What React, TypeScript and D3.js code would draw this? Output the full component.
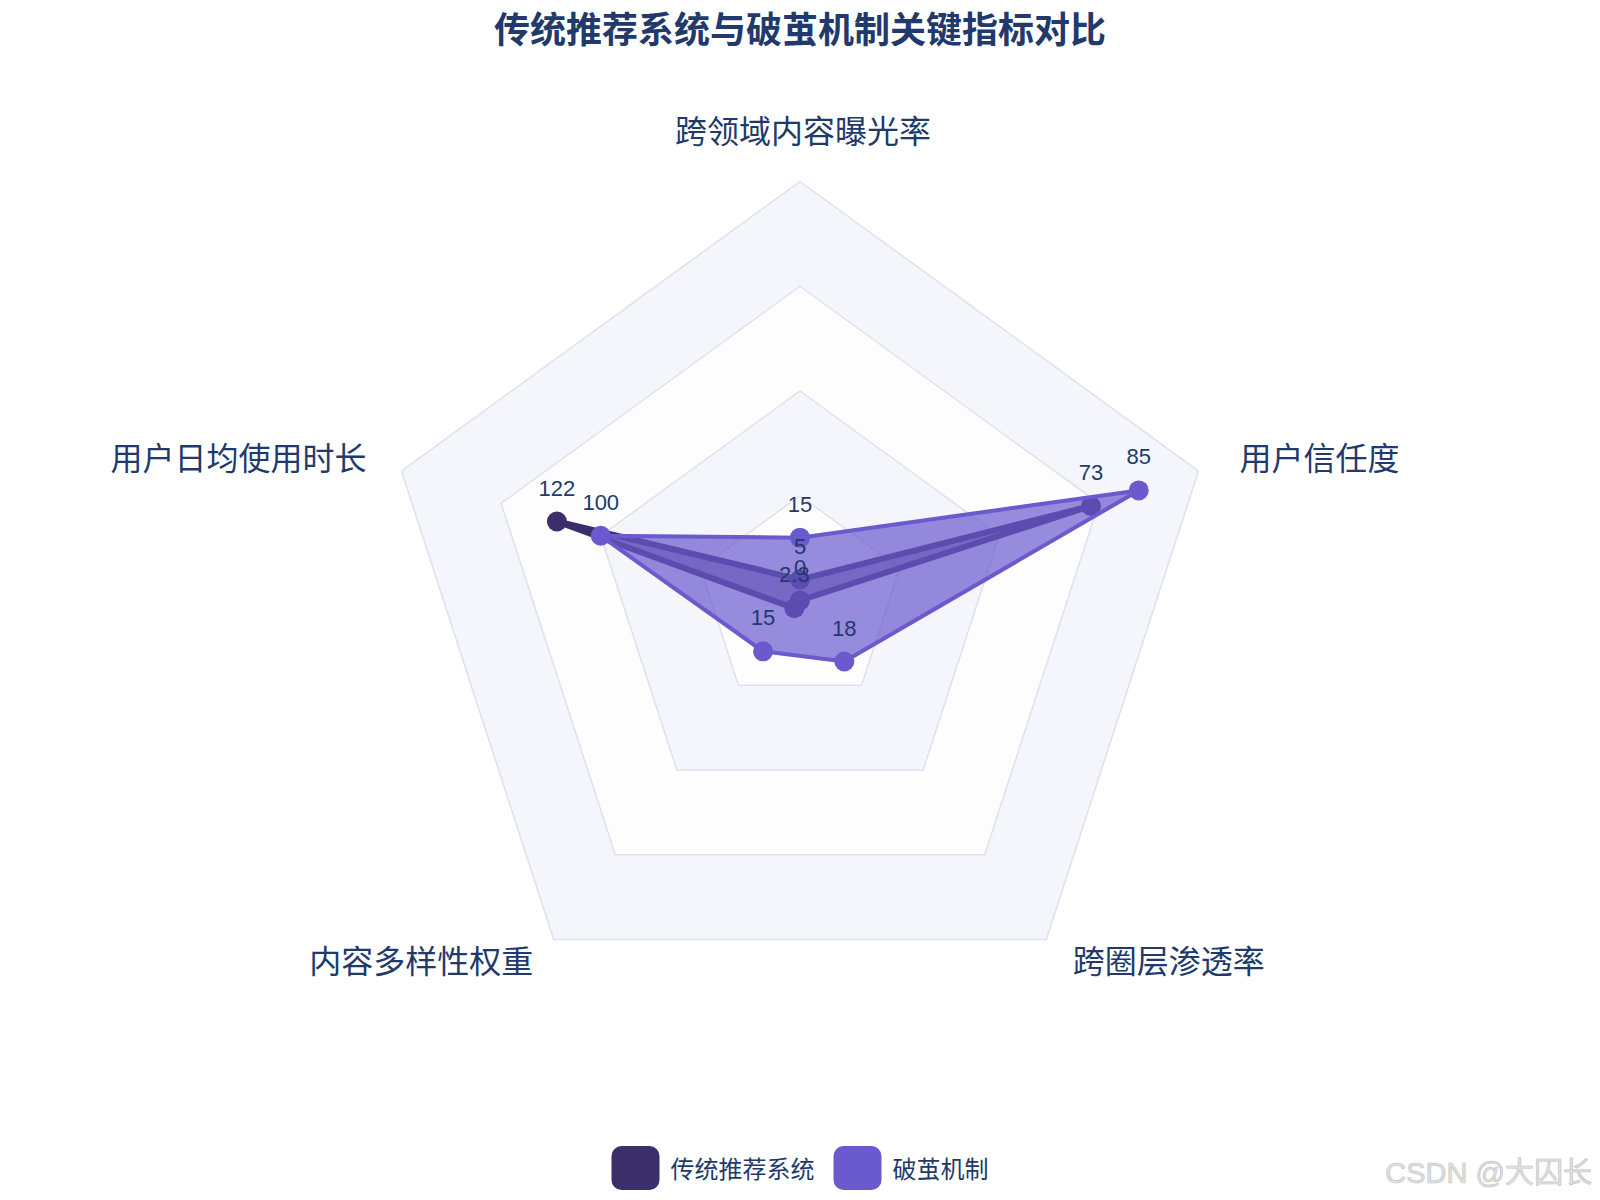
import React from 'react';
import * as d3 from 'd3';

const chartTitle = '传统推荐系统与破茧机制关键指标对比';
const categories = ['跨领域内容曝光率', '用户信任度', '跨圈层渗透率', '内容多样性权重', '用户日均使用时长'];
const traditionalValues = [5, 73, 0, 2.3, 122];
const breakoutValues = [15, 85, 18, 15, 100];
// factor applied to each indicator before plotting on the 0-100 radial axis
const plotFactors = [1, 1, 1, 1, 0.5];
const gridTicks = [25, 50, 75, 100];
const seriesNames = ['传统推荐系统', '破茧机制'];
const watermark = 'CSDN @大囚长';

const W = 1600;
const H = 1200;
const cx = 800;
const cy = 600.5;
const R = 419;
const NAVY = '#223a6b';
const FONT = "'Liberation Sans', Arial, 'Noto Sans CJK SC', sans-serif";
const CJK = "'Noto Sans CJK SC', 'Liberation Sans', sans-serif";

const series = [
  { name: seriesNames[0], values: traditionalValues, color: '#3c2e6b', fill: 'rgba(60,46,107,0.55)', width: 6 },
  { name: seriesNames[1], values: breakoutValues, color: '#6a5acd', fill: 'rgba(106,90,205,0.7)', width: 4 },
];

export default function App() {
  const n = categories.length;
  const angle = d3.scalePoint<string>().domain(categories).range([0, (2 * Math.PI * (n - 1)) / n]);
  const r = d3.scaleLinear().domain([0, 100]).range([0, R]);

  const pt = (cat: string, rad: number) => {
    const a = angle(cat)!;
    return [cx + rad * Math.sin(a), cy - rad * Math.cos(a)];
  };

  const gridPath = (v: number) =>
    d3.line()(categories.map((c) => pt(c, r(v)) as [number, number])) + 'Z';

  const bandFills = ['#f5f6fb', '#fdfdfe', '#f5f6fb', '#fdfdfe'];
  const ticksDesc = [...gridTicks].sort((a, b) => b - a);

  const radial = d3
    .lineRadial<number>()
    .angle((_, i) => angle(categories[i])!)
    .radius((v, i) => r(v * plotFactors[i]))
    .curve(d3.curveLinearClosed);

  // legend layout
  const legFont = 24;
  const sw = 48;
  const legendItems = seriesNames.map((s) => sw + 11 + s.length * legFont);
  const legGap = 19;
  const legTotal = legendItems.reduce((a, b) => a + b, 0) + legGap * (legendItems.length - 1);
  let lx = cx - legTotal / 2;
  const legendPos = legendItems.map((w) => {
    const x0 = lx;
    lx += w + legGap;
    return x0;
  });

  return (
    <svg width={W} height={H} style={{ position: 'absolute', left: 0, top: 0, display: 'block', background: '#fff' }}>
      <rect x={0} y={0} width={W} height={H} fill="#ffffff" />
      <text x={cx} y={27} textAnchor="middle" dominantBaseline="central" fontFamily={CJK} fontWeight={700} fontSize={36} fill={NAVY}>
        {chartTitle}
      </text>

      {ticksDesc.map((t, i) => (
        <path key={'b' + t} d={gridPath(t)} fill={bandFills[i]} />
      ))}
      {ticksDesc.map((t) => (
        <path key={'g' + t} d={gridPath(t)} fill="none" stroke="#dce1ee" strokeWidth={1.5} />
      ))}

      {categories.map((c) => {
        const a = angle(c)!;
        const s = Math.sin(a);
        const co = -Math.cos(a); // screen y direction
        const [vx, vy] = pt(c, R);
        const anchor = Math.abs(s) < 0.1 ? 'middle' : s > 0 ? 'start' : 'end';
        const x = vx + s * 40 + 3;
        const y = vy + co * (co < 0 ? 50 : 28) + (Math.abs(co) < 0.5 ? 3 : 0);
        return (
          <text key={c} x={x} y={y} textAnchor={anchor} dominantBaseline="central" fontFamily={FONT} fontSize={32} fill={NAVY}>
            {c}
          </text>
        );
      })}

      {series.map((s) => (
        <g key={s.name} transform={`translate(${cx},${cy})`}>
          <path d={radial(s.values) || ''} fill={s.fill} stroke={s.color} strokeWidth={s.width} strokeLinejoin="round" />
          {s.values.map((v, i) => {
            const [x, y] = pt(categories[i], r(v * plotFactors[i]));
            return <circle key={i} cx={x - cx} cy={y - cy} r={10} fill={s.color} />;
          })}
        </g>
      ))}

      {series.map((s) => (
        <g key={'t' + s.name}>
          {s.values.map((v, i) => {
            const [x, y] = pt(categories[i], r(v * plotFactors[i]));
            return (
              <text key={i} x={x} y={y - 26} textAnchor="middle" fontFamily={FONT} fontSize={22} fill={NAVY}>
                {String(v)}
              </text>
            );
          })}
        </g>
      ))}

      {series.map((s, i) => (
        <g key={'l' + s.name} transform={`translate(${legendPos[i]},1146)`}>
          <rect x={0} y={0} width={sw} height={44} rx={10} ry={10} fill={s.color} />
          <text x={sw + 11} y={21} dominantBaseline="central" fontFamily={CJK} fontSize={legFont} fill={NAVY}>
            {s.name}
          </text>
        </g>
      ))}

      <text x={1592} y={1173} textAnchor="end" dominantBaseline="central" fontFamily={FONT} fontSize={29} fill="#e0e0e0" stroke="#c6c6c6" strokeWidth={0.7}>
        {watermark}
      </text>
    </svg>
  );
}
